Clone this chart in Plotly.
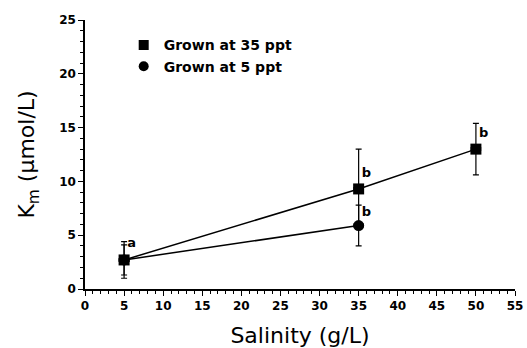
import plotly.graph_objects as go

salinity_35 = [5, 35, 50]
km_35 = [2.7, 9.3, 13.0]
err_35 = [1.7, 3.7, 2.4]
xerr_35 = [0.6, 0.6, 0.6]
salinity_5 = [5, 35]
km_5 = [2.7, 5.9]
err_5 = [1.4, 1.9]
xerr_5 = [0.6, 0.6]
sig_x = [5.4, 35.4, 35.4, 50.4]
sig_y = [4.2, 10.7, 7.1, 14.4]
sig_labels = ["a", "b", "b", "b"]

font = "DejaVu Sans"
fig = go.Figure()
fig.add_trace(go.Scatter(
    x=salinity_35, y=km_35, mode="lines+markers", name="Grown at 35 ppt", showlegend=False,
    line=dict(color="black", width=1.5),
    marker=dict(symbol="square", size=11, color="black"),
    error_y=dict(type="data", array=err_35, color="black", thickness=1.2, width=3),
    error_x=dict(type="data", array=xerr_35, color="black", thickness=1.2, width=2),
))
fig.add_trace(go.Scatter(
    x=salinity_5, y=km_5, mode="lines+markers", name="Grown at 5 ppt", showlegend=False,
    line=dict(color="black", width=1.5),
    marker=dict(symbol="circle", size=11, color="black"),
    error_y=dict(type="data", array=err_5, color="black", thickness=1.2, width=3),
    error_x=dict(type="data", array=xerr_5, color="black", thickness=1.2, width=2),
))
# legend-only entries (markers without lines)
fig.add_trace(go.Scatter(x=[None], y=[None], mode="markers", name="Grown at 35 ppt",
                         marker=dict(symbol="square", size=10, color="black")))
fig.add_trace(go.Scatter(x=[None], y=[None], mode="markers", name="Grown at 5 ppt",
                         marker=dict(symbol="circle", size=10, color="black")))
fig.add_trace(go.Scatter(
    x=sig_x, y=sig_y, mode="text", text=sig_labels, showlegend=False,
    textposition="middle right",
    textfont=dict(family=font, size=13, color="black", weight="bold"),
))

fig.update_layout(
    width=527, height=348,
    margin=dict(l=85, r=12, t=20, b=59),
    paper_bgcolor="white", plot_bgcolor="white",
    font=dict(family=font, color="black"),
    showlegend=True,
    legend=dict(x=0.09, y=0.965, xanchor="left", yanchor="top",
                bgcolor="rgba(0,0,0,0)", font=dict(size=14, family=font, weight="bold"),
                itemwidth=30, tracegroupgap=0),
    xaxis=dict(
        range=[0, 55], tickvals=list(range(0, 56, 5)), automargin=False,
        showgrid=False, zeroline=False, showline=True, linecolor="black", linewidth=1.5,
        ticks="outside", ticklen=5, tickcolor="black", tickwidth=1.2,
        minor=dict(dtick=1, ticks="outside", ticklen=3, tickcolor="black"),
        tickfont=dict(size=12, family=font, weight="bold"),
        title=dict(text="Salinity (g/L)", font=dict(size=22, family=font), standoff=17),
    ),
    yaxis=dict(
        range=[0, 25], tickvals=list(range(0, 26, 5)), automargin=False,
        showgrid=False, zeroline=False, showline=True, linecolor="black", linewidth=1.5,
        ticks="outside", ticklen=5, tickcolor="black", tickwidth=1.2,
        minor=dict(dtick=1, ticks="outside", ticklen=3, tickcolor="black"),
        tickfont=dict(size=12, family=font, weight="bold"),
        title=dict(text="K<sub>m</sub> (μmol/L)", font=dict(size=22, family=font), standoff=18),
    ),
)
fig.write_html("out.html", config={"displayModeBar": False},
               post_script="document.body.style.margin='0';document.body.style.overflow='hidden';")
